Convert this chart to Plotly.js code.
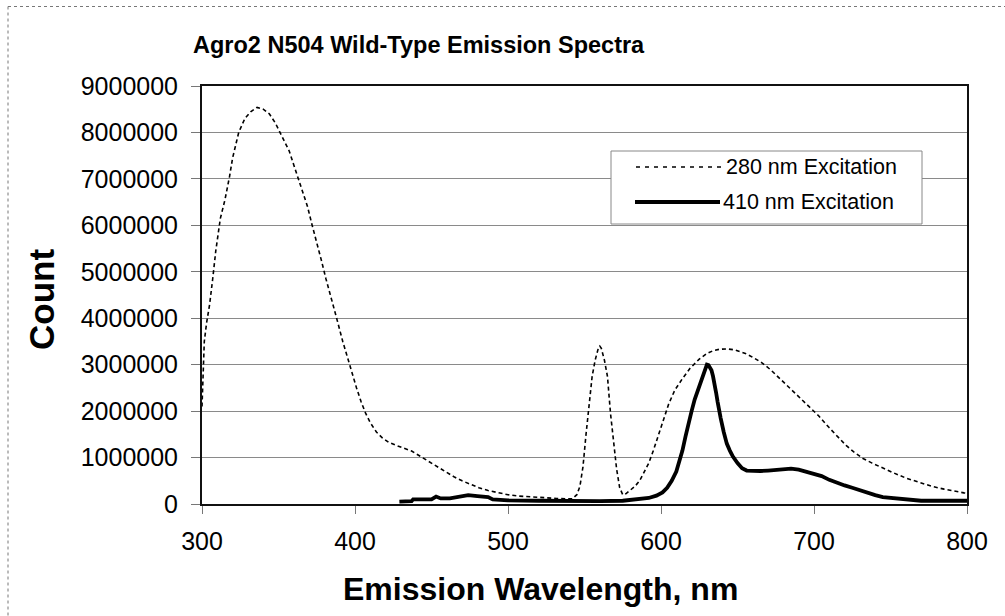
<!DOCTYPE html>
<html>
<head>
<meta charset="utf-8">
<script src="https://cdn.plot.ly/plotly-3.0.1.min.js"></script>
<style>html,body{margin:0;padding:0;background:#fff;}#chart{width:1005px;height:616px;}</style>
</head>
<body>
<div id="chart"></div>
<script>
// ---- data ----
const seriesNames = ["280 nm Excitation", "410 nm Excitation"];

const wl280 = [300, 301.5, 303, 305, 307, 309, 312, 315, 318, 320, 324, 328, 332, 336, 340, 344, 348, 351, 354, 357, 360, 363, 366, 369, 372, 375, 378, 381, 384, 388, 392, 395, 398, 401, 404, 407, 410, 414, 418, 422, 427, 432, 437, 440, 444, 448, 452, 456, 460, 465, 470, 475, 481, 487, 492, 500, 507, 515, 523, 532, 542, 545, 547, 549, 551, 553, 555, 557, 559, 560, 561, 563, 565, 567, 569, 571, 573, 575, 577, 580, 583, 586, 589, 592, 595, 599, 602, 605, 609, 614, 619, 625, 630, 634, 638, 643, 648, 652, 656, 661, 666, 672, 677, 682, 687, 692, 697, 703, 710, 716, 721, 726, 732, 738, 745, 752, 760, 768, 777, 785, 792, 798, 800];
const count280M = [2.1, 3.5, 3.9, 4.3, 4.85, 5.45, 6.15, 6.55, 7.05, 7.45, 8.0, 8.3, 8.45, 8.54, 8.5, 8.4, 8.2, 8.0, 7.8, 7.6, 7.3, 7.0, 6.7, 6.4, 6.0, 5.65, 5.25, 4.85, 4.5, 4.0, 3.5, 3.15, 2.8, 2.5, 2.2, 1.95, 1.75, 1.55, 1.42, 1.33, 1.26, 1.2, 1.14, 1.08, 1.0, 0.92, 0.84, 0.76, 0.67, 0.58, 0.5, 0.43, 0.35, 0.29, 0.25, 0.2, 0.17, 0.15, 0.13, 0.12, 0.11, 0.2, 0.38, 0.8, 1.5, 2.2, 2.75, 3.1, 3.35, 3.4, 3.35, 3.1, 2.75, 1.95, 1.35, 0.75, 0.35, 0.2, 0.22, 0.3, 0.38, 0.5, 0.68, 0.88, 1.15, 1.55, 1.85, 2.15, 2.45, 2.7, 2.92, 3.12, 3.24, 3.3, 3.33, 3.34, 3.32, 3.28, 3.23, 3.14, 3.04, 2.88, 2.72, 2.58, 2.42, 2.26, 2.1, 1.9, 1.64, 1.44, 1.26, 1.12, 0.98, 0.88, 0.77, 0.67, 0.56, 0.47, 0.38, 0.32, 0.27, 0.24, 0.23];

const wl410 = [429, 437, 438, 450, 453, 456, 462, 466, 470, 474, 480, 487, 490, 500, 520, 540, 560, 575, 585, 592, 597, 601, 604, 607, 610, 612, 614, 616, 618, 620, 622, 624, 626, 628, 629, 630, 631, 632, 633, 634, 635, 636, 637, 638, 639, 641, 643, 645, 647, 650, 653, 656, 660, 665, 670, 675, 680, 685, 690, 695, 700, 705, 710, 715, 720, 725, 730, 735, 740, 745, 750, 755, 760, 770, 780, 790, 800];
const count410M = [0.05, 0.06, 0.1, 0.1, 0.16, 0.12, 0.12, 0.15, 0.16, 0.19, 0.17, 0.15, 0.1, 0.08, 0.07, 0.06, 0.06, 0.07, 0.1, 0.13, 0.18, 0.25, 0.35, 0.5, 0.7, 0.9, 1.15, 1.45, 1.75, 2.0, 2.25, 2.45, 2.65, 2.85, 2.93, 3.0, 2.99, 2.95, 2.88, 2.75, 2.6, 2.4, 2.2, 2.0, 1.85, 1.55, 1.3, 1.15, 1.02, 0.88, 0.77, 0.72, 0.71, 0.71, 0.72, 0.74, 0.76, 0.76, 0.74, 0.7, 0.65, 0.6, 0.52, 0.45, 0.4, 0.35, 0.29, 0.24, 0.19, 0.15, 0.13, 0.12, 0.1, 0.07, 0.07, 0.07, 0.07];

const xTickVals = [300, 400, 500, 600, 700, 800];
const yTickVals = [0, 1000000, 2000000, 3000000, 4000000, 5000000, 6000000, 7000000, 8000000, 9000000];
const yTickText = ["0", "1000000", "2000000", "3000000", "4000000", "5000000", "6000000", "7000000", "8000000", "9000000"];

const chartTitle = "Agro2 N504 Wild-Type Emission Spectra";
const xTitle = "Emission Wavelength, nm";
const yTitle = "Count";

// ---- layout helpers ----
const W = 1005, H = 616;
const M = {l: 202, r: 38, t: 86, b: 112};
const PW = W - M.l - M.r, PH = H - M.t - M.b;
const px = x => (x - M.l) / PW;          // pixel x -> paper x
const py = y => (H - M.b - y) / PH;      // pixel y -> paper y

const FONT = "Liberation Sans, Arial, Helvetica, sans-serif";

const traces = [
  {
    x: wl280, y: count280M.map(v => v * 1e6), name: seriesNames[0],
    type: "scatter", mode: "lines",
    line: {color: "#000", width: 1.6, dash: "4px,3px"}
  },
  {
    x: wl410, y: count410M.map(v => v * 1e6), name: seriesNames[1],
    type: "scatter", mode: "lines",
    line: {color: "#000", width: 3.8}
  }
];

const layout = {
  width: W, height: H,
  margin: M,
  paper_bgcolor: "#fff", plot_bgcolor: "#fff",
  showlegend: false,
  font: {family: FONT, color: "#000"},
  title: {
    text: "<b>" + chartTitle + "</b>",
    font: {family: FONT, size: 23.5, color: "#000"},
    xref: "container", yref: "container",
    x: 193 / W, xanchor: "left",
    y: 1 - 45 / H, yanchor: "middle"
  },
  xaxis: {
    range: [300, 800], tickvals: xTickVals, ticktext: xTickVals.map(String),
    showgrid: false, zeroline: false,
    showline: true, linecolor: "#111", linewidth: 2, mirror: true,
    ticks: "outside", ticklen: 8, tickcolor: "#777", tickwidth: 1,
    tickfont: {family: FONT, size: 25, color: "#000"},
    ticklabelstandoff: 6
  },
  yaxis: {
    range: [0, 9000000], tickvals: yTickVals, ticktext: yTickText,
    showgrid: true, gridcolor: "#8a8a8a", gridwidth: 1,
    zeroline: false,
    showline: true, linecolor: "#111", linewidth: 2, mirror: true,
    ticks: "outside", ticklen: 9, tickcolor: "#777", tickwidth: 1,
    tickfont: {family: FONT, size: 25, color: "#000"},
    ticklabelstandoff: 8
  },
  annotations: [
    {
      text: "<b>" + xTitle + "</b>", xref: "paper", yref: "paper",
      x: px(540), y: py(589), xanchor: "center", yanchor: "middle",
      showarrow: false, font: {family: FONT, size: 32, color: "#000"}
    },
    {
      text: "<b>" + yTitle + "</b>", xref: "paper", yref: "paper",
      x: px(41), y: py(300), xanchor: "center", yanchor: "middle",
      textangle: -90, showarrow: false, font: {family: FONT, size: 35, color: "#000"}
    },
    {
      text: seriesNames[0], xref: "paper", yref: "paper",
      x: px(724), y: py(167), xanchor: "left", yanchor: "middle",
      showarrow: false, font: {family: FONT, size: 21.5, color: "#000"}
    },
    {
      text: seriesNames[1], xref: "paper", yref: "paper",
      x: px(721), y: py(202), xanchor: "left", yanchor: "middle",
      showarrow: false, font: {family: FONT, size: 21.5, color: "#000"}
    }
  ],
  shapes: [
    // chart-area border (left and top edges visible)
    {type: "line", xref: "paper", yref: "paper", x0: px(8), x1: px(8), y0: py(6.5), y1: py(620),
     line: {color: "#777", width: 1, dash: "dot"}},
    {type: "line", xref: "paper", yref: "paper", x0: px(8), x1: px(1010), y0: py(6.5), y1: py(6.5),
     line: {color: "#777", width: 1, dash: "dot"}},
    // legend box
    {type: "rect", xref: "paper", yref: "paper", x0: px(611), x1: px(922), y0: py(151), y1: py(224),
     fillcolor: "#fff", line: {color: "#888", width: 1}},
    // legend samples
    {type: "line", xref: "paper", yref: "paper", x0: px(636), x1: px(722), y0: py(167), y1: py(167),
     line: {color: "#000", width: 1.6, dash: "4px,5px"}},
    {type: "line", xref: "paper", yref: "paper", x0: px(635), x1: px(720), y0: py(202), y1: py(202),
     line: {color: "#000", width: 3.8}}
  ]
};

Plotly.newPlot("chart", traces, layout, {staticPlot: true, displayModeBar: false});
</script>
</body>
</html>
